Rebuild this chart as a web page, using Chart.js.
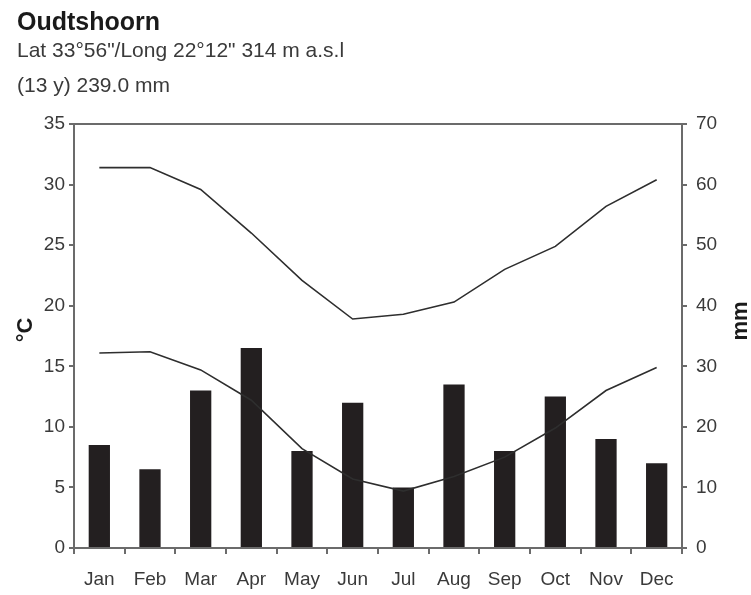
<!DOCTYPE html>
<html>
<head>
<meta charset="utf-8">
<title>Oudtshoorn climate</title>
<script src="https://cdn.jsdelivr.net/npm/chart.js@4.4.1/dist/chart.umd.min.js"></script>
<style>
    html, body { margin: 0; padding: 0; background: #fff; }
    #wrap { width: 751px; height: 595px; position: relative; }
</style>
</head>
<body>
<div id="wrap"><canvas id="climate-chart"></canvas></div>
<script>
// Climate chart data
// ------------------------------
const months = ["Jan", "Feb", "Mar", "Apr", "May", "Jun", "Jul", "Aug", "Sep", "Oct", "Nov", "Dec"];
const rainMm = [17, 13, 26, 33, 16, 24, 10, 27, 16, 25, 18, 14];
const maxTemp = [31.4, 31.4, 29.6, 26.0, 22.1, 18.9, 19.3, 20.3, 23.0, 24.9, 28.2, 30.4];
const minTemp = [16.1, 16.2, 14.7, 12.2, 8.2, 5.7, 4.7, 5.9, 7.5, 9.9, 13.0, 14.9];
const tempTicks = [0, 5, 10, 15, 20, 25, 30, 35];
const rainTicks = [0, 10, 20, 30, 40, 50, 60, 70];

const axisGrey = '#6b6b6b';
const textGrey = '#3a3a3a';
const fontFamily = "'Liberation Sans', Arial, sans-serif";

// axis titles (right one reads bottom to top, so draw them by hand) + top border
const framePlugin = {
    id: 'frame',
    afterDraw(chart) {
        const c = chart.ctx, a = chart.chartArea;
        c.save();
        c.strokeStyle = axisGrey;
        c.lineWidth = 2;
        c.beginPath();
        c.moveTo(a.left, a.top);
        c.lineTo(a.right, a.top);
        c.stroke();

        c.fillStyle = '#1a1a1a';
        c.font = 'bold 22px ' + fontFamily;
        c.textAlign = 'center';
        c.textBaseline = 'middle';
        c.translate(26, 330);
        c.rotate(-Math.PI / 2);
        c.fillText('°C', 0, 0);
        c.restore();

        c.save();
        c.fillStyle = '#1a1a1a';
        c.font = 'bold 22px ' + fontFamily;
        c.textAlign = 'center';
        c.textBaseline = 'middle';
        c.translate(741, 321);
        c.rotate(-Math.PI / 2);
        c.fillText('mm', 0, 0);
        c.restore();
    }
};

var ctx = document.getElementById('climate-chart');

var chartData = {
    labels: months,
    datasets: [
        {type: 'line', label: 'Max temp', data: maxTemp, yAxisID: 'y',
            borderColor: '#2e2e2e', borderWidth: 1.6, pointRadius: 0, tension: 0, fill: false, order: 1},
        {type: 'line', label: 'Min temp', data: minTemp, yAxisID: 'y',
            borderColor: '#2e2e2e', borderWidth: 1.6, pointRadius: 0, tension: 0, fill: false, order: 1},
        {type: 'bar', label: 'Rain', data: rainMm, yAxisID: 'y1',
            backgroundColor: '#231f20', barPercentage: 0.42, categoryPercentage: 1, order: 2}
    ]
};

var chartOptions = {
    responsive: true,
    maintainAspectRatio: false,
    animation: false,
    layout: { padding: { left: 17, right: 0, top: 0, bottom: 0 } },
    plugins: {
        legend: { display: false },
        tooltip: { enabled: false },
        title: {
            display: true, text: 'Oudtshoorn', align: 'start', color: '#1a1a1a',
            font: { family: fontFamily, size: 25, weight: 'bold', lineHeight: 0.8 },
            padding: { top: 13, bottom: 0 }
        },
        subtitle: {
            display: true, align: 'start', color: textGrey,
            text: ['Lat 33°56"/Long 22°12" 314 m a.s.l', '(13 y) 239.0 mm'],
            font: { family: fontFamily, size: 21, lineHeight: 1.7 },
            padding: { top: 0, bottom: 19.6 }
        }
    },
    scales: {
        x: {
            grid: { offset: true, drawOnChartArea: false, drawTicks: true, tickLength: 6, color: axisGrey, lineWidth: 2 },
            border: { display: true, color: axisGrey, width: 2 },
            ticks: { color: textGrey, font: { family: fontFamily, size: 19 }, padding: 14, maxRotation: 0 },
            afterFit(scale) { scale.height = 47; }
        },
        y: {
            position: 'left', min: 0, max: 35,
            afterBuildTicks(scale) { scale.ticks = tempTicks.map(v => ({ value: v })); },
            grid: { drawOnChartArea: false, tickLength: 5, color: axisGrey, lineWidth: 2 },
            border: { display: true, color: axisGrey, width: 2 },
            ticks: { color: textGrey, font: { family: fontFamily, size: 19 }, padding: 4 },
            afterFit(scale) { scale.width = 57; }
        },
        y1: {
            position: 'right', min: 0, max: 70,
            afterBuildTicks(scale) { scale.ticks = rainTicks.map(v => ({ value: v })); },
            grid: { drawOnChartArea: false, tickLength: 5, color: axisGrey, lineWidth: 2 },
            border: { display: true, color: axisGrey, width: 2 },
            ticks: { color: textGrey, font: { family: fontFamily, size: 19 }, padding: 9 },
            afterFit(scale) { scale.width = 69; }
        }
    }
};

var config = {
    type: 'bar',
    data: chartData,
    options: chartOptions,
    plugins: [framePlugin]
};

// Create the chart
var climateChart = new Chart(ctx, config);
</script>
</body>
</html>
